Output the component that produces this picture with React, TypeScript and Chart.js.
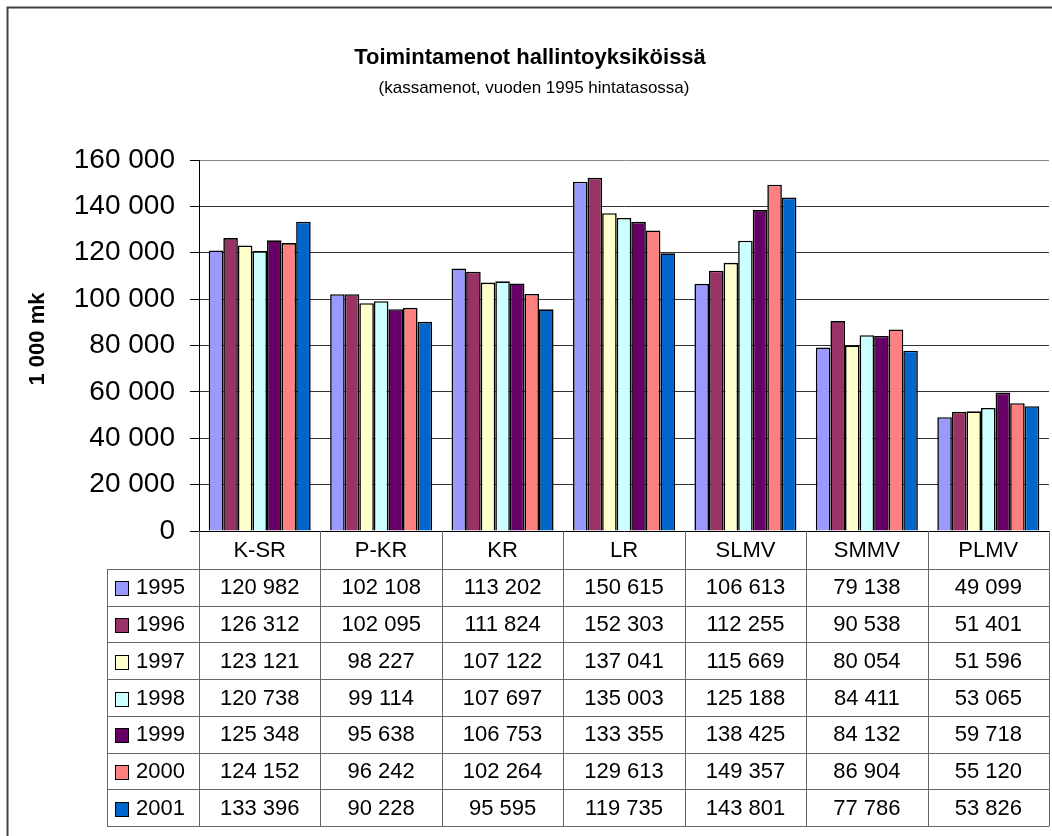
import React, { useEffect, useRef } from "react";
import { Chart, registerables } from "chart.js";

Chart.register(...registerables);

const titleText = "Toimintamenot hallintoyksiköissä";
const subtitleText = "(kassamenot, vuoden 1995 hintatasossa)";
const yAxisTitle = "1 000 mk";

const categories = ["K-SR", "P-KR", "KR", "LR", "SLMV", "SMMV", "PLMV"];
const years = ["1995", "1996", "1997", "1998", "1999", "2000", "2001"];

const v1995 = [120982, 102108, 113202, 150615, 106613, 79138, 49099];
const v1996 = [126312, 102095, 111824, 152303, 112255, 90538, 51401];
const v1997 = [123121, 98227, 107122, 137041, 115669, 80054, 51596];
const v1998 = [120738, 99114, 107697, 135003, 125188, 84411, 53065];
const v1999 = [125348, 95638, 106753, 133355, 138425, 84132, 59718];
const v2000 = [124152, 96242, 102264, 129613, 149357, 86904, 55120];
const v2001 = [133396, 90228, 95595, 119735, 143801, 77786, 53826];

const seriesValues = [v1995, v1996, v1997, v1998, v1999, v2000, v2001];
const seriesColors = ["#9999FF", "#993366", "#FFFFCC", "#CCFFFF", "#660066", "#FF8080", "#0066CC"];

const yMin = 0;
const yMax = 160000;
const yStep = 20000;

const FONT = '"Liberation Sans", Arial, sans-serif';

const fmt = (v: number) => String(v).replace(/\B(?=(\d{3})+(?!\d))/g, " ");

const decorPlugin = {
  id: "decor",
  beforeDraw(chart: any) {
    const ctx = chart.ctx;
    ctx.save();
    ctx.fillStyle = "#fff";
    ctx.fillRect(0, 0, chart.width, chart.height);
    // outer frame (left and top visible)
    ctx.strokeStyle = "#404040";
    ctx.lineWidth = 2;
    ctx.beginPath();
    ctx.moveTo(7.5, chart.height + 2);
    ctx.lineTo(7.5, 7.5);
    ctx.lineTo(chart.width + 2, 7.5);
    ctx.stroke();
    ctx.restore();
  },
  afterDraw(chart: any) {
    const ctx = chart.ctx;
    const area = chart.chartArea;
    const xs = chart.scales.x;
    ctx.save();
    // titles
    ctx.fillStyle = "#000";
    ctx.textAlign = "center";
    ctx.textBaseline = "alphabetic";
    ctx.font = `bold 22px ${FONT}`;
    ctx.fillText(titleText, 530, 64);
    ctx.font = `17px ${FONT}`;
    ctx.fillText(subtitleText, 534, 93);
    // y axis title
    ctx.save();
    ctx.translate(38, 339);
    ctx.rotate(-Math.PI / 2);
    ctx.font = `bold 22px ${FONT}`;
    ctx.textBaseline = "middle";
    ctx.fillText(yAxisTitle, 0, 0);
    ctx.restore();

    // data table
    const n = categories.length;
    const colW = (area.right - area.left) / n;
    const top = Math.round(area.bottom);
    const headerBottom = top + 38;
    const tableBottom = 826;
    const rowH = (tableBottom - headerBottom) / years.length;
    const legendLeft = 107;
    ctx.strokeStyle = "#666";
    ctx.lineWidth = 1;
    ctx.beginPath();
    for (let i = 0; i <= years.length; i++) {
      const y = Math.round(headerBottom + i * rowH) + 0.5;
      ctx.moveTo(legendLeft, y);
      ctx.lineTo(area.right, y);
    }
    for (let j = 0; j <= n; j++) {
      const x = Math.round(area.left + j * colW) + 0.5;
      ctx.moveTo(x, top);
      ctx.lineTo(x, tableBottom + 0.5);
    }
    ctx.moveTo(legendLeft + 0.5, headerBottom);
    ctx.lineTo(legendLeft + 0.5, tableBottom + 0.5);
    ctx.stroke();

    ctx.font = `22px ${FONT}`;
    ctx.fillStyle = "#000";
    ctx.textAlign = "center";
    ctx.textBaseline = "middle";
    categories.forEach((c, j) => {
      ctx.fillText(c, xs.getPixelForValue(j), top + 20);
    });
    years.forEach((yr, i) => {
      const cy = headerBottom + i * rowH + rowH / 2 + 1;
      // legend key
      ctx.fillStyle = seriesColors[i];
      ctx.fillRect(115, Math.round(cy - 7), 13, 14);
      ctx.strokeStyle = "#000";
      ctx.lineWidth = 1;
      ctx.strokeRect(115.5, Math.round(cy - 7) + 0.5, 13, 14);
      ctx.fillStyle = "#000";
      ctx.textAlign = "left";
      ctx.fillText(yr, 136, cy);
      ctx.textAlign = "center";
      seriesValues[i].forEach((v, j) => {
        ctx.fillText(fmt(v), xs.getPixelForValue(j), cy);
      });
    });
    ctx.restore();
  },
};

export default function App() {
  const ref = useRef<HTMLCanvasElement | null>(null);
  useEffect(() => {
    if (!ref.current) return;
    const chart = new Chart(ref.current, {
      type: "bar",
      data: {
        labels: categories,
        datasets: years.map((yr, i) => ({
          label: yr,
          data: seriesValues[i],
          backgroundColor: seriesColors[i],
          borderColor: "#000",
          borderWidth: 1.6,
          categoryPercentage: 0.84,
          barPercentage: 1.0,
        })),
      },
      options: {
        animation: false,
        responsive: false,
        devicePixelRatio: 1,
        layout: { padding: { left: 0, top: 160, right: 3, bottom: 836 - 531 } },
        plugins: {
          legend: { display: false },
          tooltip: { enabled: false },
          title: { display: false },
        },
        scales: {
          x: { display: false, offset: true, grid: { offset: true } },
          y: {
            min: yMin,
            max: yMax,
            afterFit: (s: any) => {
              s.width = 199;
            },
            ticks: {
              stepSize: yStep,
              color: "#000",
              padding: 15,
              font: { size: 28, family: FONT },
              callback: (v: any) => fmt(Number(v)),
            },
            grid: {
              color: (c: any) =>
                c.tick && c.tick.value === 0 ? "#000" : c.tick && c.tick.value === yMax ? "#888" : "#333",
              tickColor: "#000",
              tickLength: 9,
              lineWidth: 1,
            },
            border: { display: true, color: "#000", width: 1 },
          },
        },
      },
      plugins: [decorPlugin],
    });
    return () => chart.destroy();
  }, []);
  return (
    <div
      style={{
        position: "fixed",
        left: 0,
        top: 0,
        width: 1052,
        height: 836,
        overflow: "hidden",
        background: "#fff",
      }}
    >
      <canvas ref={ref} width={1052} height={836} style={{ display: "block", width: 1052, height: 836 }} />
    </div>
  );
}
